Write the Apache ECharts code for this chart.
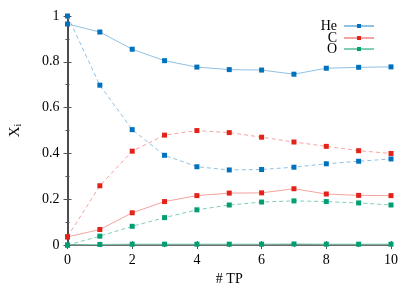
<!DOCTYPE html>
<html><head><meta charset="utf-8">
<script src="https://cdn.jsdelivr.net/npm/echarts@6/dist/echarts.min.js"></script>
<style>html,body{margin:0;padding:0;background:#fff}#c{width:415px;height:291px}</style>
</head><body><div id="c"></div>
<script>
const xs = [0,1,2,3,4,5,6,7,8,9,10];
const heSolid = [0.965,0.930,0.855,0.805,0.777,0.766,0.764,0.746,0.772,0.776,0.778];
const heDash  = [1.000,0.698,0.504,0.392,0.342,0.328,0.330,0.340,0.355,0.366,0.376];
const cSolid  = [0.036,0.068,0.141,0.190,0.216,0.227,0.228,0.246,0.223,0.217,0.216];
const cDash   = [0.036,0.259,0.410,0.480,0.500,0.491,0.471,0.450,0.431,0.412,0.400];
const oSolid  = [0.000,0.003,0.004,0.004,0.004,0.004,0.004,0.005,0.004,0.004,0.004];
const oDash   = [0.000,0.039,0.082,0.120,0.154,0.175,0.188,0.193,0.190,0.184,0.175];
const xTicks = [0,2,4,6,8,10];
const yTicks = [0,0.2,0.4,0.6,0.8,1];

const FONT = 'Liberation Serif';
const pair = (a)=>a.map((v,i)=>[xs[i],v]);
const blue='#0072bd', red='#e32219', green='#009e73';
const blueL='#8fc1e3', redL='#f4a3a0', greenL='#7fcfb2';
function S(name, data, mk, ln, dashed){
  return {name, type:'line', data:pair(data), symbol:'rect', symbolSize:5,
    itemStyle:{color:mk}, lineStyle:{color:ln, width:1, type: dashed?[4,3]:'solid'},
    emphasis:{disabled:true}, animation:false, z: dashed?2:3};
}
const axFrame = (c)=>({show:true, lineStyle:{color:c, width:1.5}});
const chart = echarts.init(document.getElementById('c'));
const legendBase = (name, top)=>({data:[name], orient:'vertical', right:40, top, align:'right',
  itemWidth:30, itemHeight:5, itemGap:0, padding:0, selectedMode:false,
  textStyle:{fontFamily:FONT, fontSize:14, color:'#000', padding:[0,2,0,0]}});
chart.setOption({
  animation:false,
  grid:{left:65, right:24, top:16, bottom:43},
  legend:[legendBase('He',19), legendBase('C',31), legendBase('O',42)],
  xAxis:[{type:'value', min:0, max:10, interval:2, axisLine:axFrame('#222'),
    axisTick:{inside:true, length:4, lineStyle:{color:'#555'}},
    minorTick:{show:true, splitNumber:2, length:2, lineStyle:{color:'#555'}},
    splitLine:{show:false},
    axisLabel:{fontFamily:FONT, fontSize:14, color:'#000', margin:8,
      formatter:(v)=>xTicks.includes(v)?String(v):''},
    name:'# TP', nameLocation:'middle', nameGap:26,
    nameTextStyle:{fontFamily:FONT, fontSize:14, color:'#000'}},
   {type:'value', position:'top', min:0, max:10, interval:2, axisLine:axFrame('#777'),
    axisTick:{inside:true, length:4, lineStyle:{color:'#555'}},
    minorTick:{show:true, splitNumber:2, length:2, lineStyle:{color:'#555'}},
    axisLabel:{show:false}, splitLine:{show:false}}],
  yAxis:[{type:'value', min:0, max:1, interval:0.2, axisLine:axFrame('#777'),
    axisTick:{inside:true, length:4, lineStyle:{color:'#555'}},
    minorTick:{show:true, splitNumber:2, length:2, lineStyle:{color:'#555'}},
    splitLine:{show:false},
    axisLabel:{fontFamily:FONT, fontSize:14, color:'#000', margin:8,
      formatter:(v)=>{const t=yTicks.find(y=>Math.abs(y-v)<1e-9); return t===undefined?'':String(t);}},
    name:'{a|X}{b|i}', nameLocation:'middle', nameGap:44, nameRotate:90,
    nameTextStyle:{rich:{a:{fontFamily:FONT, fontSize:15, color:'#000'},
      b:{fontFamily:FONT, fontSize:10, color:'#000', verticalAlign:'bottom', padding:[6,0,0,0]}}}},
   {type:'value', position:'right', min:0, max:1, interval:0.2, axisLine:axFrame('#333'),
    axisTick:{inside:true, length:4, lineStyle:{color:'#555'}},
    minorTick:{show:true, splitNumber:2, length:2, lineStyle:{color:'#555'}},
    axisLabel:{show:false}, splitLine:{show:false}}],
  series:[
    S('He', heSolid, blue, blueL, false),
    S('C', cSolid, red, redL, false),
    S('O', oSolid, green, greenL, false),
    S('He2', heDash, blue, blueL, true),
    S('C2', cDash, red, redL, true),
    S('O2', oDash, green, greenL, true)
  ]
});
</script></body></html>
